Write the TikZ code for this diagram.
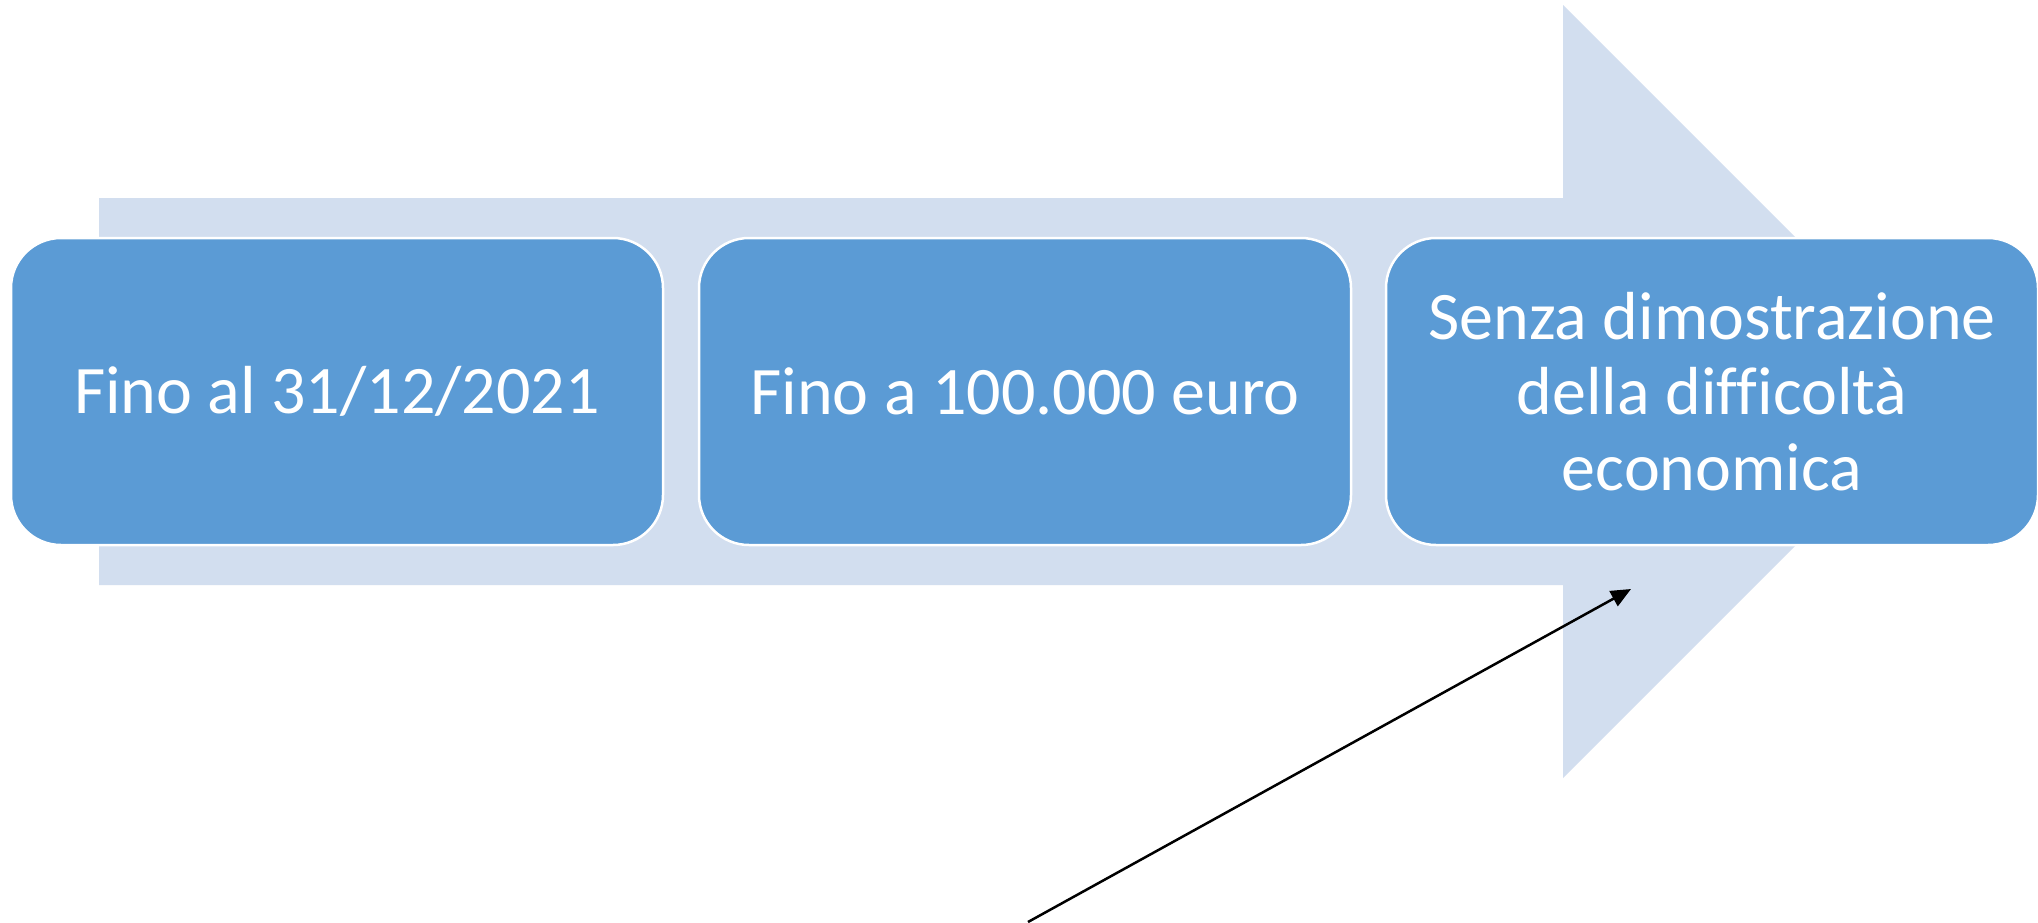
\documentclass[tikz,border=0pt]{standalone}
\usepackage{fontspec}
\setmainfont{Carlito}[Ligatures=CommonOff]
\usetikzlibrary{arrows.meta}
\definecolor{boxblue}{HTML}{5B9BD5}
\definecolor{arrowbg}{HTML}{D2DEEF}
\tikzset{
  stagebox/.style={rounded corners=50pt, fill=boxblue, draw=white, line width=2.5pt,
    minimum width=652pt, minimum height=307pt, inner sep=0pt, text=white,
    font=\fontsize{68}{75.5}\selectfont, align=center},
  pointer/.style={draw=black, line width=2.5pt, -{Triangle[length=20pt,width=17pt]}}
}
\begin{document}
\begin{tikzpicture}[x=1pt,y=-1pt]
\useasboundingbox (0,0) rectangle (2038,922);
\fill[white] (0,0) rectangle (2038,922);
\fill[arrowbg] (99,198) -- (1563,198) -- (1563,5) -- (1949.5,391.5) -- (1563,778) -- (1563,585) -- (99,585) -- cycle;
\node[stagebox] (b1) at (337,391.5) {Fino al 31/12/2021};
\node[stagebox] (b2) at (1025,391.5) {Fino a 100.000 euro};
\node[stagebox] (b3) at (1712,391.5) {Senza dimostrazione\\della dif{}f{}icoltà\\economica};
\coordinate (ps) at (1028,922);
\coordinate (pt) at (1631,589);
\draw[pointer] (ps) -- (pt);
\end{tikzpicture}
\end{document}
